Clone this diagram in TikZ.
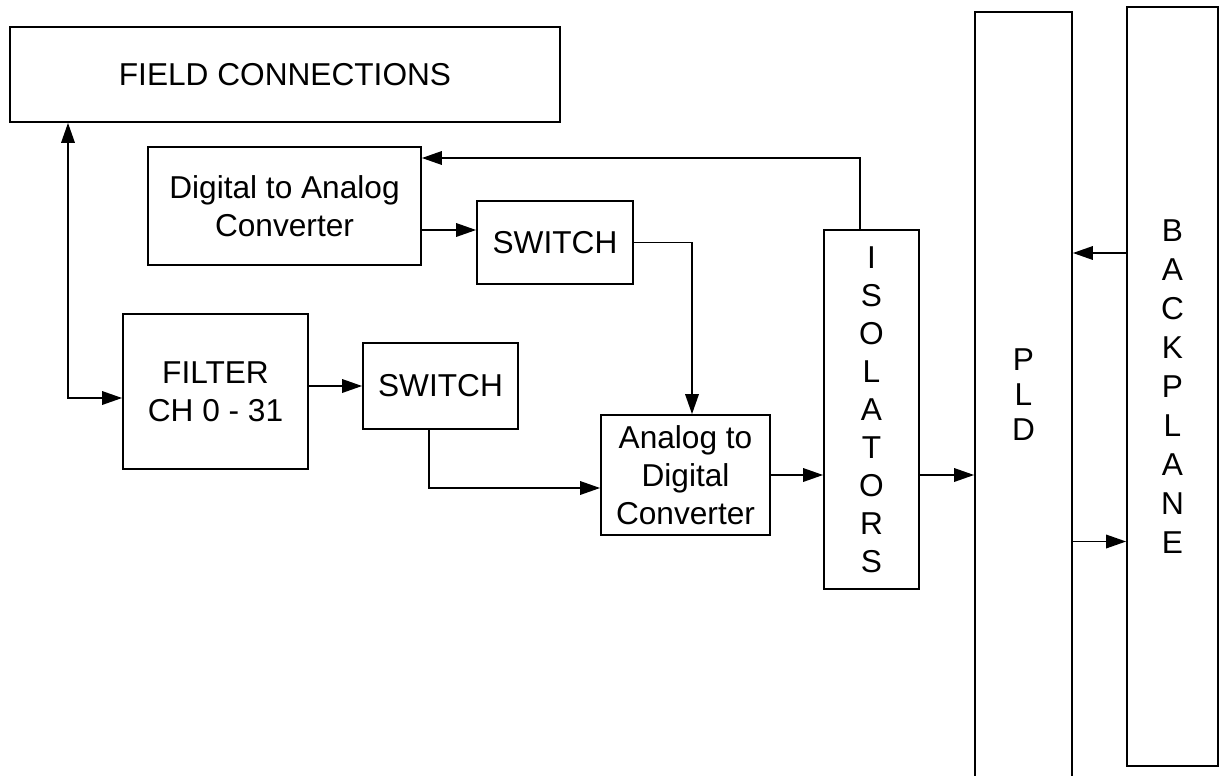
\documentclass[tikz,border=0pt]{standalone}
\usepackage{fontspec}
\setmainfont{Liberation Sans}
\usetikzlibrary{arrows.meta}

\begin{document}
\begin{tikzpicture}[
        >={Triangle[length=0.4cm,width=0.27cm]},
        block/.style={draw, line width=1pt, align=center, inner sep=0pt,
            font=\fontsize{18}{21.6}\selectfont},
        link/.style={line width=1pt}]
        \useasboundingbox (0,0) rectangle (24.48,-15.5);
        \clip (0,0) rectangle (24.48,-15.5);

        % Field side blocks
        \node[block, minimum width=11cm, minimum height=1.9cm] (field) at (5.7,-1.49) {FIELD CONNECTIONS};
        \node[block, minimum width=5.46cm, minimum height=2.36cm] (dac) at (5.69,-4.12) {Digital to Analog\\Converter};
        \node[block, minimum width=3.12cm, minimum height=1.66cm] (swtop) at (11.1,-4.85) {SWITCH};
        \node[block, minimum width=3.7cm, minimum height=3.1cm] (filter) at (4.31,-7.83) {FILTER\\CH 0 - 31};
        \node[block, minimum width=3.1cm, minimum height=1.72cm] (swbot) at (8.81,-7.72) {SWITCH};
        \node[block, minimum width=3.38cm, minimum height=2.4cm] (adc) at (13.71,-9.5) {Analog to\\Digital\\Converter};

        % Isolation and logic side
        \node[block, minimum width=1.9cm, minimum height=7.18cm] (iso) at (17.43,-8.19) {I\\S\\O\\L\\A\\T\\O\\R\\S};
        \node[block, minimum width=1.94cm, minimum height=15.32cm,
            font=\fontsize{18}{19.9}\selectfont] (pld) at (20.47,-7.9) {P\\L\\D};
        \node[block, minimum width=1.82cm, minimum height=15.18cm,
            font=\fontsize{18}{22.2}\selectfont] (bp) at (23.45,-7.73) {B\\A\\C\\K\\P\\L\\A\\N\\E};

        % Signal paths
        \draw[link, <->] ([xshift=-4.34cm]field.south) |- ([yshift=-0.13cm]filter.west);
        \draw[link, ->] ([yshift=-0.48cm]dac.east) coordinate (d1) -- (d1 -| swtop.west);
        \draw[link, ->] (swtop.east) -| ([xshift=0.13cm]adc.north);
        \draw[link, ->] (filter.east |- swbot.west) -- (swbot.west);
        \draw[link, ->] ([xshift=-0.23cm]swbot.south) |- ([yshift=-0.26cm]adc.west);
        \draw[link, ->] (adc.east) -- (adc.east -| iso.west);
        \draw[link, ->] (iso.east |- adc.east) -- (pld.west |- adc.east);
        \draw[link, ->] ([xshift=-0.23cm]iso.north) |- ([yshift=0.96cm]dac.east);
        \draw[link, ->] ([yshift=2.67cm]bp.west) coordinate (b1) -- (b1 -| pld.east);
        \draw[link, ->] ([yshift=-2.93cm]pld.east) coordinate (p1) -- (p1 -| bp.west);
    \end{tikzpicture}
\end{document}
